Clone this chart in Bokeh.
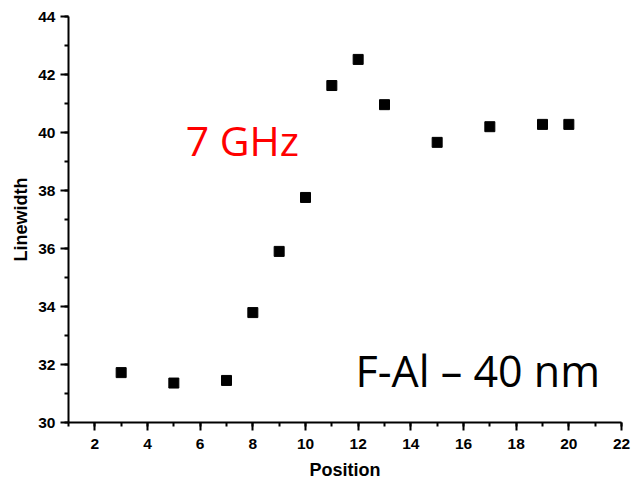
from bokeh.plotting import figure
from bokeh.models import Range1d, Label, FixedTicker
from bokeh.embed import file_html
from bokeh.resources import INLINE

positions = [3, 5, 7, 8, 9, 10, 11, 12, 13, 15, 17, 19, 20]
linewidths = [31.72, 31.36, 31.45, 33.79, 35.9, 37.76, 41.62, 42.52, 40.96, 39.66, 40.2, 40.28, 40.28]
x_ticks = [2, 4, 6, 8, 10, 12, 14, 16, 18, 20, 22]
y_ticks = [30, 32, 34, 36, 38, 40, 42, 44]

p = figure(width=633, height=485, output_backend="svg", toolbar_location=None,
           x_range=Range1d(1, 22), y_range=Range1d(30, 44),
           min_border_left=68, min_border_right=12, min_border_top=16, min_border_bottom=63)
p.outline_line_color = None
p.grid.visible = False
p.background_fill_color = "white"
p.border_fill_color = "white"

p.scatter(positions, linewidths, marker="square", size=10, color="black")

for ax in (p.xaxis[0], p.yaxis[0]):
    ax.axis_line_width = 2
    ax.axis_line_color = "black"
    ax.major_tick_line_width = 2
    ax.minor_tick_line_width = 2
    ax.major_tick_out = 8
    ax.major_tick_in = 0
    ax.minor_tick_out = 4
    ax.minor_tick_in = 0
    ax.major_label_text_font = "Liberation Sans"
    ax.major_label_text_font_style = "bold"
    ax.major_label_text_font_size = "15.5px"
    ax.major_label_text_color = "black"
    ax.axis_label_text_font = "Liberation Sans"
    ax.axis_label_text_font_style = "bold"
    ax.axis_label_text_font_size = "18px"
    ax.axis_label_text_color = "black"

p.xaxis.ticker = FixedTicker(ticks=x_ticks, minor_ticks=list(range(1, 23)))
p.yaxis.ticker = FixedTicker(ticks=y_ticks, minor_ticks=list(range(30, 45)))
p.xaxis.axis_label = "Position"
p.yaxis.axis_label = "Linewidth"
p.xaxis.major_label_standoff = 8
p.yaxis.major_label_standoff = 5
p.xaxis.axis_label_standoff = 8
p.yaxis.axis_label_standoff = 4

p.add_layout(Label(x=5.45, y=39.75, text="7 GHz", text_color="red",
                   text_font="Open Sans", text_font_size="41px", text_baseline="alphabetic"))
p.add_layout(Label(x=11.9, y=31.8, text="F-Al \u2013 40 nm", text_color="black",
                   text_font="Open Sans", text_font_size="43px", text_baseline="alphabetic"))

open("out.html", "w").write(file_html(p, INLINE))
